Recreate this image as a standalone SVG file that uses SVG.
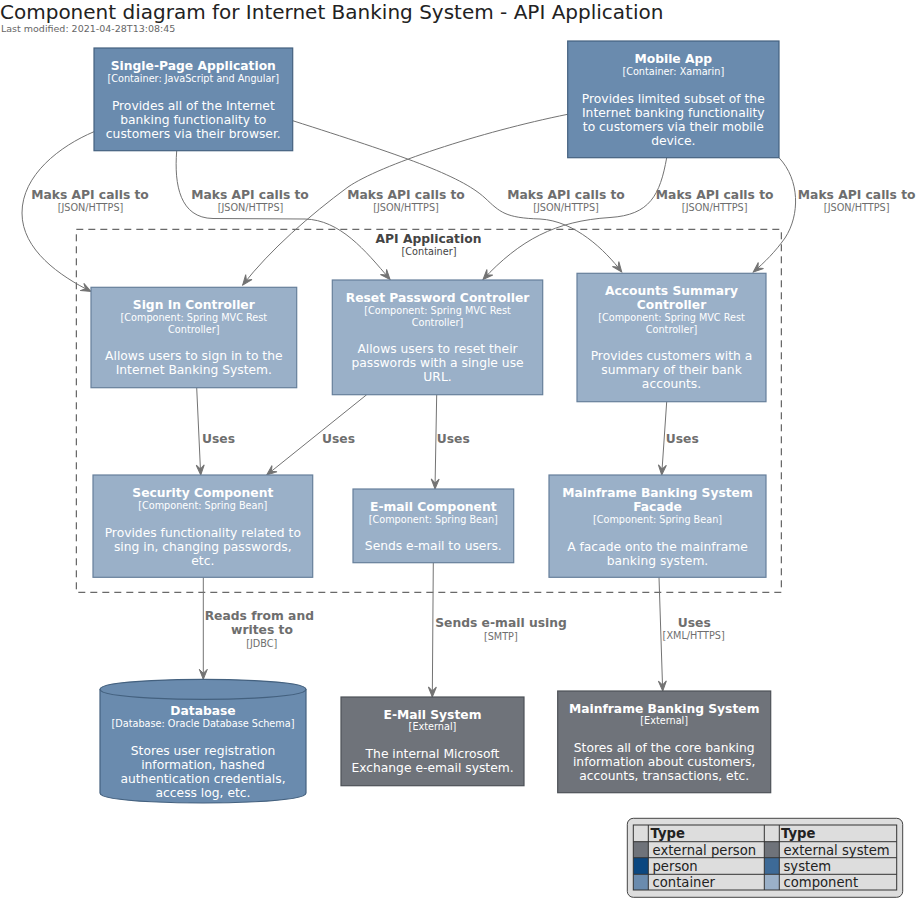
<svg xmlns="http://www.w3.org/2000/svg" width="923" height="912" viewBox="0 0 923 912">
<style>
text{font-family:"DejaVu Sans","Liberation Sans",sans-serif}
.title{font-size:20px;fill:#222}
.sub{font-size:9.5px;fill:#666}
.nm{font-size:12.3px;font-weight:bold;fill:#fff;text-anchor:middle}
.tc{font-size:9.7px;fill:#fff;text-anchor:middle}
.bd{font-size:12.3px;fill:#fff;text-anchor:middle}
.cont{fill:#6A8BAE;stroke:#44617F;stroke-width:1.2}
.comp{fill:#9AB0C8;stroke:#667F9B;stroke-width:1.2}
.ext{fill:#6F737A;stroke:#4D5157;stroke-width:1.2}
.ln{fill:none;stroke:#737373;stroke-width:1;marker-end:url(#arr)}
.rl{font-size:12.3px;font-weight:bold;fill:#6E6E6E;text-anchor:middle}
.rt{font-size:9.7px;fill:#6E6E6E;text-anchor:middle}
.bnd{fill:none;stroke:#444;stroke-width:1;stroke-dasharray:7,5}
.bl{font-size:12.3px;font-weight:bold;fill:#444;text-anchor:middle}
.bt{font-size:9.7px;fill:#444;text-anchor:middle}
.lg{font-size:13.2px;fill:#222}
.lgh{font-size:13.2px;font-weight:bold;fill:#222}
.cell{fill:none;stroke:#333;stroke-width:1}
</style>
<defs>
<marker id="arr" markerUnits="userSpaceOnUse" markerWidth="12" markerHeight="10" refX="0" refY="0" orient="auto" overflow="visible">
<path d="M0,0 L-10,-4 L-6,0 L-10,4 Z" fill="#737373" stroke="#737373" stroke-width="1" stroke-linejoin="miter"/>
</marker>
</defs>
<rect width="923" height="912" fill="#fff"/>
<text class="title" x="0" y="19">Component diagram for Internet Banking System - API Application</text>
<text class="sub" x="1" y="32">Last modified: 2021-04-28T13:08:45</text>

<g id="api-application-boundary">
<rect class="bnd" x="76.3" y="229.3" width="705" height="363"/>
<text class="bl" x="428.5" y="243">API Application</text>
<text class="bt" x="429" y="255">[Container]</text>
</g>

<g id="connectors">
<path class="ln" d="M94,131.7 C60,146 22,175 22,213 C22,250 60,276 91,291.5"/>
<path class="ln" d="M176.7,151 C174,185 180,218 213,218.5 L305,219 C340,220 365,250 390,279.5"/>
<path class="ln" d="M292.7,120.7 C400,155 460,175 485,198 C500,212 505,218 540,219 C575,221 605,250 621.7,272"/>
<path class="ln" d="M567.7,114.3 C480,132 380,165 348,187 C310,215 270,250 242.7,285"/>
<path class="ln" d="M666.7,157.7 C660,195 650,215 610,217.5 C555,221 520,240 483,279.5"/>
<path class="ln" d="M779,157.7 C800,180 800,215 785,238 C775,252 765,262 753.3,272"/>
<path class="ln" d="M196.7,387.7 L200.7,475"/>
<path class="ln" d="M366.7,394.7 L266.7,475"/>
<path class="ln" d="M436.7,394.7 L435,489"/>
<path class="ln" d="M666.7,401.7 L661.7,475"/>
<path class="ln" d="M203.3,577.3 L203.3,679.3"/>
<path class="ln" d="M433.3,562.7 L432.3,697"/>
<path class="ln" d="M659,577.3 L662.7,691"/>
<text class="rl" x="90" y="199">Maks API calls to</text><text class="rt" x="90.5" y="210.7">[JSON/HTTPS]</text>
<text class="rl" x="250" y="199">Maks API calls to</text><text class="rt" x="250.5" y="210.7">[JSON/HTTPS]</text>
<text class="rl" x="406" y="199">Maks API calls to</text><text class="rt" x="406" y="210.7">[JSON/HTTPS]</text>
<text class="rl" x="566" y="199">Maks API calls to</text><text class="rt" x="566" y="210.7">[JSON/HTTPS]</text>
<text class="rl" x="714.7" y="199">Maks API calls to</text><text class="rt" x="714.7" y="210.7">[JSON/HTTPS]</text>
<text class="rl" x="856.7" y="199">Maks API calls to</text><text class="rt" x="856.7" y="210.7">[JSON/HTTPS]</text>
<text class="rl" x="218.5" y="442.7">Uses</text>
<text class="rl" x="338.5" y="442.7">Uses</text>
<text class="rl" x="453.3" y="442.7">Uses</text>
<text class="rl" x="682.3" y="442.7">Uses</text>
<text class="rl" x="259.3" y="620">Reads from and</text>
<text class="rl" x="262" y="634.3">writes to</text>
<text class="rt" x="261.7" y="646.7">[JDBC]</text>
<text class="rl" x="501" y="627.3">Sends e-mail using</text>
<text class="rt" x="500.8" y="640">[SMTP]</text>
<text class="rl" x="694.3" y="627.3">Uses</text>
<text class="rt" x="693.7" y="639.3">[XML/HTTPS]</text>
</g>

<g id="single-page-application">
<rect class="cont" x="94" y="48" width="198.7" height="102.7"/>
<text class="nm" x="193.3" y="70">Single-Page Application</text>
<text class="tc" x="193.3" y="81.7">[Container: JavaScript and Angular]</text>
<text class="bd" x="193.3" y="110">Provides all of the Internet</text>
<text class="bd" x="193.3" y="124">banking functionality to</text>
<text class="bd" x="193.3" y="138">customers via their browser.</text>
</g>

<g id="mobile-app">
<rect class="cont" x="567.7" y="41" width="211.3" height="116.7"/>
<text class="nm" x="673.3" y="63.3">Mobile App</text>
<text class="tc" x="673.3" y="75">[Container: Xamarin]</text>
<text class="bd" x="673.3" y="103.3">Provides limited subset of the</text>
<text class="bd" x="673.3" y="117.3">Internet banking functionality</text>
<text class="bd" x="673.3" y="131.3">to customers via their mobile</text>
<text class="bd" x="673.3" y="145.3">device.</text>
</g>

<g id="sign-in-controller">
<rect class="comp" x="91" y="287.3" width="205.7" height="100.4"/>
<text class="nm" x="193.8" y="309">Sign In Controller</text>
<text class="tc" x="193.8" y="321">[Component: Spring MVC Rest</text>
<text class="tc" x="193.8" y="332.7">Controller]</text>
<text class="bd" x="193.8" y="360">Allows users to sign in to the</text>
<text class="bd" x="193.8" y="374">Internet Banking System.</text>
</g>

<g id="reset-password-controller">
<rect class="comp" x="332.3" y="280" width="210.4" height="114.7"/>
<text class="nm" x="437.5" y="302">Reset Password Controller</text>
<text class="tc" x="437.5" y="314.3">[Component: Spring MVC Rest</text>
<text class="tc" x="437.5" y="326">Controller]</text>
<text class="bd" x="437.5" y="353">Allows users to reset their</text>
<text class="bd" x="437.5" y="367">passwords with a single use</text>
<text class="bd" x="437.5" y="381">URL.</text>
</g>

<g id="accounts-summary-controller">
<rect class="comp" x="577" y="273.3" width="189" height="128.4"/>
<text class="nm" x="671.5" y="295">Accounts Summary</text>
<text class="nm" x="671.5" y="309">Controller</text>
<text class="tc" x="671.5" y="321">[Component: Spring MVC Rest</text>
<text class="tc" x="671.5" y="333">Controller]</text>
<text class="bd" x="671.5" y="359.7">Provides customers with a</text>
<text class="bd" x="671.5" y="373.7">summary of their bank</text>
<text class="bd" x="671.5" y="387.7">accounts.</text>
</g>

<g id="security-component">
<rect class="comp" x="93" y="475" width="219.7" height="102.3"/>
<text class="nm" x="202.8" y="496.7">Security Component</text>
<text class="tc" x="202.8" y="509.3">[Component: Spring Bean]</text>
<text class="bd" x="202.8" y="537">Provides functionality related to</text>
<text class="bd" x="202.8" y="551">sing in, changing passwords,</text>
<text class="bd" x="202.8" y="565">etc.</text>
</g>

<g id="email-component">
<rect class="comp" x="353" y="489" width="160.7" height="73.7"/>
<text class="nm" x="433.3" y="511">E-mail Component</text>
<text class="tc" x="433.3" y="523.3">[Component: Spring Bean]</text>
<text class="bd" x="433.3" y="550">Sends e-mail to users.</text>
</g>

<g id="mainframe-banking-system-facade">
<rect class="comp" x="549" y="475" width="217" height="102.3"/>
<text class="nm" x="657.5" y="496.7">Mainframe Banking System</text>
<text class="nm" x="657.5" y="510.7">Facade</text>
<text class="tc" x="657.5" y="522.7">[Component: Spring Bean]</text>
<text class="bd" x="657.5" y="551">A facade onto the mainframe</text>
<text class="bd" x="657.5" y="565">banking system.</text>
</g>

<g id="database">
<path class="cont" d="M100,689.3 C100,679.3 203,679.3 203,679.3 C203,679.3 306,679.3 306,689.3 L306,793 C306,803 203,803 203,803 C203,803 100,803 100,793 Z"/>
<path fill="none" stroke="#44617F" stroke-width="1.2" d="M100,689.3 C100,699.3 203,699.3 203,699.3 C203,699.3 306,699.3 306,689.3"/>
<text class="nm" x="203" y="715">Database</text>
<text class="tc" x="203" y="727">[Database: Oracle Database Schema]</text>
<text class="bd" x="203" y="755">Stores user registration</text>
<text class="bd" x="203" y="769">information, hashed</text>
<text class="bd" x="203" y="783">authentication credentials,</text>
<text class="bd" x="203" y="797">access log, etc.</text>
</g>

<g id="email-system">
<rect class="ext" x="341" y="697" width="183" height="88.7"/>
<text class="nm" x="432.5" y="719">E-Mail System</text>
<text class="tc" x="432.5" y="730.3">[External]</text>
<text class="bd" x="432.5" y="758.3">The internal Microsoft</text>
<text class="bd" x="432.5" y="772.3">Exchange e-email system.</text>
</g>

<g id="mainframe-banking-system">
<rect class="ext" x="557.7" y="691" width="213" height="101.7"/>
<text class="nm" x="664.2" y="712.7">Mainframe Banking System</text>
<text class="tc" x="664.2" y="724.3">[External]</text>
<text class="bd" x="664.2" y="751.7">Stores all of the core banking</text>
<text class="bd" x="664.2" y="765.7">information about customers,</text>
<text class="bd" x="664.2" y="779.7">accounts, transactions, etc.</text>
</g>

<g id="legend">
<rect x="627.3" y="818.3" width="275.4" height="79" rx="6" ry="6" fill="#DDDDDD" stroke="#444" stroke-width="1"/>
<rect x="633.3" y="841.7" width="15" height="16" fill="#6F737A"/>
<rect x="633.3" y="857.7" width="15" height="16.6" fill="#0B4780"/>
<rect x="633.3" y="874.3" width="15" height="15.7" fill="#6A8BAE"/>
<rect x="764.3" y="841.7" width="15" height="16" fill="#6F737A"/>
<rect x="764.3" y="857.7" width="15" height="16.6" fill="#3D6A97"/>
<rect x="764.3" y="874.3" width="15" height="15.7" fill="#9AB0C8"/>
<rect class="cell" x="633.3" y="825" width="263.4" height="65"/>
<path class="cell" d="M648.3,825 V890 M764.3,825 V890 M779.3,825 V890 M633.3,841.7 H896.7 M633.3,857.7 H896.7 M633.3,874.3 H896.7"/>
<text class="lgh" x="650.5" y="837.5">Type</text>
<text class="lgh" x="781" y="837.5">Type</text>
<text class="lg" x="652.5" y="855">external person</text>
<text class="lg" x="652.5" y="871">person</text>
<text class="lg" x="652.5" y="887">container</text>
<text class="lg" x="783.5" y="855">external system</text>
<text class="lg" x="783.5" y="871">system</text>
<text class="lg" x="783.5" y="887">component</text>
</g>
</svg>
